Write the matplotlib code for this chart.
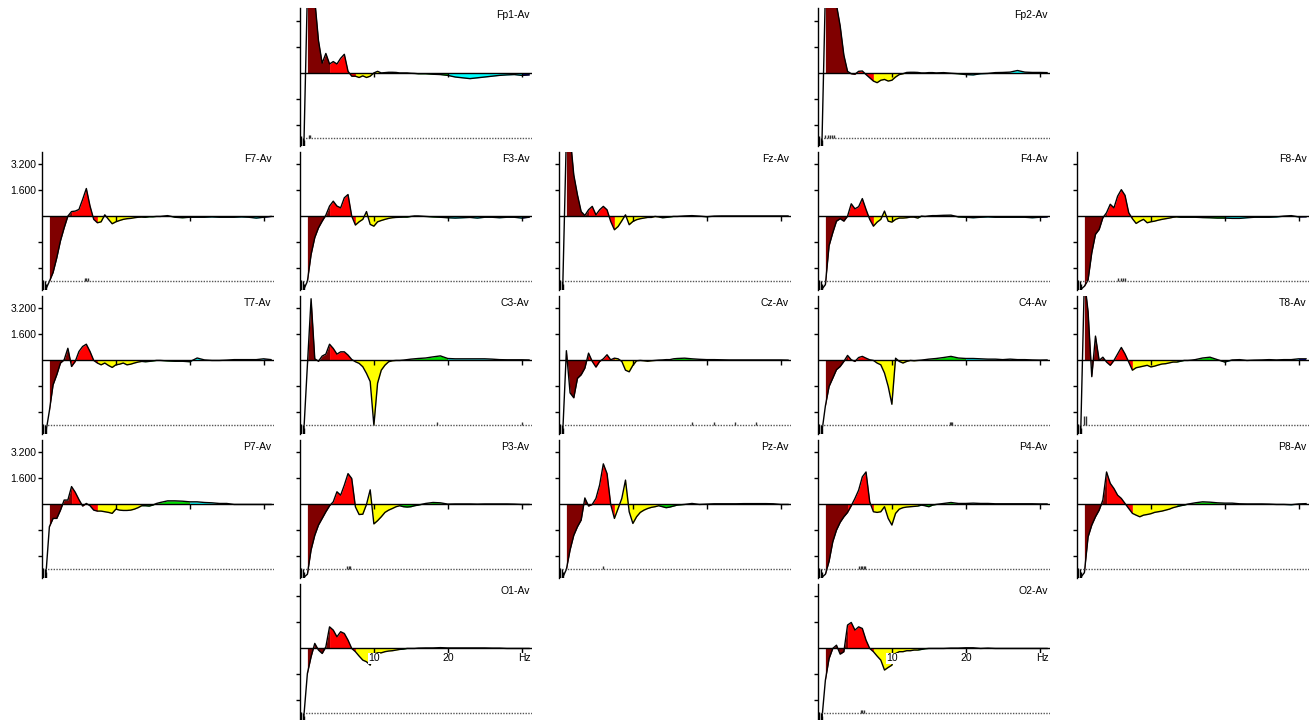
import numpy as np
import matplotlib
matplotlib.use("Agg")
import matplotlib.pyplot as plt

plt.rcParams["font.family"] = ["Liberation Sans", "DejaVu Sans"]

# frequency grid (Hz) shared by all channels
freqs = [0.5, 1.0, 1.5, 2.0, 2.5, 3.0, 3.5, 4.0, 4.5, 5.0, 5.5, 6.0, 6.5, 7.0, 7.5, 8.0,
         8.5, 9.0, 9.5, 10.0, 10.5, 11.0, 11.5, 12.0, 12.5, 13.0, 13.5, 14.0, 14.5, 15.0, 15.5, 16.0,
         17, 18, 19, 20, 21, 22, 23, 24, 25, 26, 27, 28, 29, 30, 31]

# spectra differences per channel
fp1 = [-5.0, 5.0, 5.0, 4.5, 2.0, 0.6, 1.2, 0.55, 0.7, 0.55, 0.9, 1.15, 0.1, -0.2, -0.2, -0.28,
       -0.18, -0.28, -0.2, 0.0, 0.1, 0.0, 0.02, 0.04, 0.04, 0.03, 0.0, 0.0, 0.0, -0.02, -0.03, -0.05,
       -0.05, -0.08, -0.1, -0.15, -0.25, -0.3, -0.35, -0.3, -0.25, -0.2, -0.15, -0.12, -0.1, -0.15, -0.12]
fp2 = [-5.0, 5.0, 5.0, 5.0, 4.2, 2.9, 1.1, 0.1, -0.05, -0.08, 0.1, 0.12, -0.1, -0.3, -0.5, -0.6,
       -0.45, -0.4, -0.5, -0.45, -0.25, -0.1, -0.05, 0.03, 0.04, 0.04, 0.03, 0.0, 0.0, 0.02, 0.02, 0.0,
       0.02, -0.02, -0.05, -0.1, -0.12, -0.05, -0.03, 0.02, 0.03, 0.05, 0.15, 0.05, 0.03, 0.03, 0.02]
f7 = [-4.5, -4.0, -3.45, -2.55, -1.5, -0.7, 0.02, 0.3, 0.33, 0.43, 1.05, 1.72, 0.64, -0.18, -0.39, -0.33,
      0.1, -0.18, -0.45, -0.33, -0.25, -0.18, -0.14, -0.12, -0.08, -0.05, -0.04, -0.05, -0.02, -0.02, 0.0, 0.0,
      0.05, -0.05, -0.08, -0.05, -0.05, -0.05, -0.03, -0.05, -0.05, -0.05, -0.03, -0.05, -0.1, -0.05, 0.0]
f3 = [-4.5, -4.0, -2.35, -1.3, -0.7, -0.29, 0.08, 0.64, 0.94, 0.64, 0.53, 1.15, 1.35, 0.02, -0.53, -0.33,
      -0.18, 0.3, -0.49, -0.6, -0.33, -0.25, -0.18, -0.12, -0.08, -0.06, -0.05, -0.04, -0.04, 0.0, 0.03, 0.03,
      0.0, -0.03, -0.05, -0.08, -0.1, -0.08, -0.06, -0.1, -0.05, -0.05, -0.08, -0.05, -0.05, -0.1, -0.05]
fz = [-4.5, 5.0, 5.0, 2.56, 1.33, 0.3, 0.06, 0.41, 0.62, 0.1, 0.41, 0.62, 0.41, -0.31, -0.82, -0.62,
      -0.27, 0.1, -0.51, -0.31, -0.2, -0.14, -0.1, -0.06, -0.06, 0.0, -0.03, -0.08, -0.06, -0.03, 0.0, 0.0,
      0.03, 0.05, 0.02, -0.02, 0.02, 0.03, 0.03, 0.03, 0.03, 0.03, 0.03, 0.03, 0.03, 0.03, 0.03]
f4 = [-4.5, -4.2, -1.8, -1.0, -0.29, -0.14, -0.29, 0.02, 0.78, 0.47, 0.6, 1.1, 0.43, -0.18, -0.6, -0.35,
      -0.18, 0.33, -0.29, -0.35, -0.18, -0.1, -0.1, -0.08, -0.04, -0.04, -0.1, 0.02, 0.0, 0.03, 0.05, 0.05,
      0.07, 0.08, -0.03, -0.05, -0.08, -0.05, -0.03, -0.05, -0.05, -0.05, -0.05, -0.05, -0.08, -0.05, -0.03]
f8 = [-4.5, -4.3, -3.9, -2.24, -1.1, -0.8, -0.08, 0.23, 0.75, 0.53, 1.25, 1.65, 1.3, 0.23, -0.14, -0.43,
      -0.29, -0.18, -0.39, -0.33, -0.29, -0.23, -0.18, -0.14, -0.1, -0.05, -0.03, -0.05, -0.05, -0.05, -0.05, -0.05,
      -0.07, -0.08, -0.1, -0.1, -0.12, -0.12, -0.08, -0.05, -0.05, -0.05, -0.03, 0.02, 0.05, -0.03, -0.02]
t7 = [-4.5, -3.1, -1.5, -0.88, -0.16, 0.04, 0.75, -0.37, -0.06, 0.55, 0.86, 1.0, 0.55, 0.0, -0.16, -0.27,
      -0.16, -0.31, -0.43, -0.27, -0.23, -0.16, -0.27, -0.23, -0.16, -0.1, -0.06, -0.08, -0.06, -0.03, 0.0, 0.0,
      -0.03, -0.05, -0.05, -0.08, 0.15, 0.03, 0.0, 0.0, 0.02, 0.05, 0.05, 0.05, 0.05, 0.1, 0.05]
c3 = [-4.5, -0.3, 3.8, 0.1, -0.05, 0.27, 0.39, 1.0, 0.74, 0.39, 0.53, 0.53, 0.33, 0.06, -0.08, -0.18,
      -0.39, -0.8, -1.3, -4.0, -1.4, -0.6, -0.29, -0.08, -0.02, 0.0, 0.0, 0.02, 0.05, 0.08, 0.1, 0.12,
      0.15, 0.22, 0.28, 0.12, 0.1, 0.1, 0.1, 0.1, 0.1, 0.08, 0.05, 0.04, 0.04, 0.04, 0.03]
cz = [-4.5, 0.6, -2.0, -2.3, -1.1, -0.88, -0.47, 0.45, -0.06, -0.41, -0.06, 0.1, 0.35, 0.04, 0.14, 0.1,
      -0.06, -0.6, -0.7, -0.3, -0.02, 0.0, -0.02, -0.05, -0.02, 0.0, 0.02, 0.03, 0.05, 0.05, 0.1, 0.12,
      0.14, 0.1, 0.07, 0.05, 0.05, 0.04, 0.03, 0.03, 0.03, 0.03, 0.03, 0.03, 0.03, 0.03, 0.02]
c4 = [-4.5, -2.8, -1.6, -1.09, -0.57, -0.37, -0.06, 0.31, 0.04, -0.06, 0.18, 0.25, 0.14, 0.04, 0.0, -0.16,
      -0.27, -0.78, -1.6, -2.7, 0.14, -0.06, -0.16, -0.06, 0.0, -0.02, 0.0, 0.02, 0.05, 0.08, 0.1, 0.12,
      0.18, 0.25, 0.15, 0.12, 0.12, 0.1, 0.08, 0.08, 0.05, 0.08, 0.05, 0.05, 0.03, 0.02, 0.03]
t8 = [-4.5, 5.0, 3.0, -1.0, 1.5, 0.0, 0.2, -0.1, -0.3, 0.0, 0.4, 0.8, 0.4, -0.1, -0.6, -0.45,
      -0.4, -0.35, -0.3, -0.4, -0.35, -0.28, -0.22, -0.2, -0.15, -0.1, -0.1, -0.05, 0.0, 0.0, 0.02, 0.05,
      0.15, 0.2, 0.05, -0.1, 0.03, 0.05, 0.0, 0.02, 0.03, 0.05, 0.03, 0.05, 0.05, 0.1, 0.1]
p7 = [-4.5, -1.37, -0.86, -0.86, -0.35, 0.27, 0.27, 1.1, 0.75, 0.3, -0.1, 0.06, -0.08, -0.35, -0.41, -0.41,
      -0.45, -0.49, -0.55, -0.29, -0.35, -0.37, -0.37, -0.35, -0.29, -0.2, -0.08, -0.08, -0.1, -0.04, 0.06, 0.12,
      0.22, 0.22, 0.2, 0.16, 0.16, 0.12, 0.1, 0.06, 0.06, 0.0, 0.0, 0.0, 0.0, 0.0, 0.0]
p3 = [-4.5, -4.3, -2.8, -1.9, -1.27, -0.86, -0.45, -0.08, 0.16, 0.78, 0.57, 1.19, 1.9, 1.6, -0.15, -0.62,
      -0.6, 0.0, 0.9, -1.2, -1.0, -0.76, -0.49, -0.35, -0.25, -0.14, -0.08, -0.14, -0.16, -0.14, -0.08, -0.04,
      0.06, 0.12, 0.1, 0.02, 0.03, 0.03, 0.03, 0.02, 0.03, 0.03, 0.03, 0.03, 0.02, 0.0, 0.0]
pz = [-4.5, -4.0, -2.8, -1.9, -1.37, -0.96, 0.4, -0.1, 0.0, 0.37, 1.2, 2.5, 1.9, 0.0, -0.86, -0.25,
      0.37, 1.5, -0.45, -1.17, -0.76, -0.49, -0.35, -0.25, -0.18, -0.14, -0.08, -0.14, -0.2, -0.16, -0.1, -0.04,
      0.0, 0.06, 0.0, 0.02, 0.04, 0.04, 0.04, 0.04, 0.05, 0.05, 0.05, 0.05, 0.04, 0.0, 0.0]
p4 = [-4.5, -4.3, -3.5, -2.3, -1.58, -1.1, -0.76, -0.49, -0.08, 0.37, 0.88, 1.7, 2.0, 0.16, -0.45, -0.49,
      -0.45, -0.14, -0.86, -1.27, -0.55, -0.29, -0.2, -0.16, -0.14, -0.12, -0.1, -0.04, -0.08, -0.14, -0.04, 0.0,
      0.06, 0.12, 0.06, 0.06, 0.08, 0.06, 0.06, 0.04, 0.04, 0.04, 0.04, 0.04, 0.04, 0.03, 0.03]
p8 = [-4.5, -4.2, -2.0, -1.27, -0.76, -0.35, 0.27, 2.0, 1.3, 0.98, 0.57, 0.37, 0.06, -0.25, -0.55, -0.66,
      -0.76, -0.66, -0.62, -0.57, -0.49, -0.45, -0.41, -0.35, -0.29, -0.2, -0.14, -0.08, -0.04, 0.02, 0.06, 0.1,
      0.16, 0.14, 0.1, 0.08, 0.08, 0.04, 0.03, 0.03, 0.03, 0.02, 0.0, 0.0, -0.02, 0.03, 0.05]
o1 = [-4.3, -1.54, -0.51, 0.31, -0.1, -0.31, 0.1, 1.33, 1.13, 0.72, 1.03, 0.92, 0.51, 0.0, -0.2, -0.47,
      -0.72, -0.82, -1.03, -0.35, -0.27, -0.27, -0.2, -0.16, -0.14, -0.1, -0.06, -0.04, 0.0, 0.0, 0.0, 0.02,
      0.03, 0.03, 0.05, 0.03, 0.03, 0.03, 0.03, 0.03, 0.03, 0.02, 0.02, 0.0, 0.0, 0.0, 0.0]
o2 = [-4.5, -1.95, -0.62, 0.0, 0.2, -0.35, -0.2, 1.44, 1.6, 1.13, 1.33, 1.23, 0.51, 0.0, -0.2, -0.47,
      -0.72, -1.33, -1.17, -1.03, -0.31, -0.2, -0.2, -0.14, -0.14, -0.1, -0.1, -0.06, -0.02, 0.0, 0.0, 0.0,
      0.0, 0.02, 0.02, 0.04, 0.04, 0.0, 0.02, 0.0, 0.0, 0.0, 0.0, 0.0, 0.0, 0.0, 0.0]

# small marks along the bottom line (Hz)
fp1_marks = [1.2, 1.4]
fp2_marks = [1.0, 1.3, 1.6, 1.9, 2.2]
f7_marks = [5.8, 6.0, 6.2]
f8_marks = [5.6, 5.9, 6.2, 6.5]
c3_marks = [18.5, 30.0]
cz_marks = [18.0, 21.0, 23.8, 26.6]
c4_marks = [17.8, 18.0, 18.2]
t8_marks = [1.0, 1.2]
p3_marks = [6.4, 6.6, 6.8]
pz_marks = [6.0]
p4_marks = [5.6, 5.8, 6.0, 6.2, 6.4]
o2_marks = [5.8, 6.0, 6.2]

# (row, col, label, values, marks)
panels = [
    (0, 1, "Fp1", fp1, fp1_marks), (0, 3, "Fp2", fp2, fp2_marks),
    (1, 0, "F7", f7, f7_marks), (1, 1, "F3", f3, []), (1, 2, "Fz", fz, []),
    (1, 3, "F4", f4, []), (1, 4, "F8", f8, f8_marks),
    (2, 0, "T7", t7, []), (2, 1, "C3", c3, c3_marks), (2, 2, "Cz", cz, cz_marks),
    (2, 3, "C4", c4, c4_marks), (2, 4, "T8", t8, t8_marks),
    (3, 0, "P7", p7, []), (3, 1, "P3", p3, p3_marks), (3, 2, "Pz", pz, pz_marks),
    (3, 3, "P4", p4, p4_marks), (3, 4, "P8", p8, []),
    (4, 1, "O1", o1, []), (4, 3, "O2", o2, o2_marks),
]

bands = [(1.0, 4.0, "#800000"), (4.0, 7.5, "#ff0000"), (7.5, 13.5, "#ffff00"),
         (13.5, 20.0, "#00e000"), (20.0, 30.0, "#00ffff"), (30.0, 31.0, "#0000c0")]

W, H = 1316, 720
col_x = [42, 300, 559, 818, 1077]
row_top = [8, 151.5, 295.5, 439.5, 583.5]
pw, ph = 232, 138

fig = plt.figure(figsize=(W / 100, H / 100), dpi=100)
f = np.array(freqs)

for r, c, name, vals, mk in panels:
    ax = fig.add_axes([col_x[c] / W, 1 - (row_top[r] + ph) / H, pw / W, ph / H])
    ax.set_xlim(0, 31.4)
    ax.set_ylim(-4.5, 4.0)
    v = np.array(vals)

    for lo, hi, col in bands:
        m = (f >= lo) & (f <= hi)
        ax.fill_between(f[m], 0, v[m], color=col, lw=0)
    ax.plot(f, v, color="k", lw=1.0)

    ax.axhline(0, color="k", lw=1)
    ax.axhline(-4, color="#555555", lw=1, ls=(0, (1, 1)))
    ax.vlines([10, 20, 30], -0.25, 0, color="k", lw=1)
    ax.vlines([0.15, 0.35, 0.55], -4.5, [-3.9, -4.0, -4.15], color="k", lw=1)
    if mk:
        h = 0.6 if name == "T8" else 0.2
        ax.vlines(mk, -4.0, -4.0 + h, color="#333333", lw=1)

    ax.text(0.99, 0.985, name + "-Av", transform=ax.transAxes, ha="right", va="top", fontsize=7.5)

    if r == 4:
        for xt, lab in [(10, "10"), (20, "20"), (30.4, "Hz")]:
            ax.text(xt, -0.3, lab, ha="center", va="top", fontsize=7.5, zorder=5,
                    bbox=dict(facecolor="white", edgecolor="none", pad=0.3))

    for s in ["top", "right", "bottom"]:
        ax.spines[s].set_visible(False)
    ax.spines["left"].set_linewidth(1)
    ax.set_xticks([])
    ax.set_yticks([-3.2, -1.6, 1.6, 3.2])
    if c == 0:
        ax.set_yticklabels(["", "", "1.600", "3.200"])
    else:
        ax.set_yticklabels([])
    ax.tick_params(axis="y", length=3, width=1, direction="out", labelsize=7.5, pad=1)

fig.savefig("out.png", dpi=100)
